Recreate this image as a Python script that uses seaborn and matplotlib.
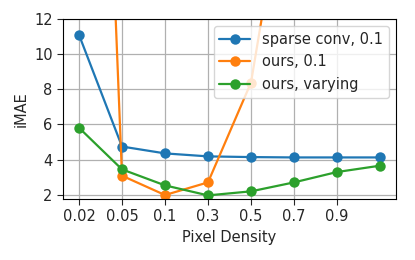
import numpy as np
import pandas as pd
import matplotlib
matplotlib.use("Agg")
import matplotlib.pyplot as plt
import seaborn as sns

# --- Data ---
DENSITY_LABELS = ['0.02', '0.05', '0.1', '0.3', '0.5', '0.7', '0.9']
POSITIONS = [0, 1, 2, 3, 4, 5, 6, 7]   # last point has no tick label

SPARSE_CONV = [11.1, 4.74, 4.35, 4.18, 4.14, 4.12, 4.12, 4.12]
OURS_FIXED = [64.0, 3.08, 1.98, 2.70, 8.38, 23.0]          # rest off the chart
OURS_VARYING = [5.81, 3.44, 2.53, 1.96, 2.19, 2.70, 3.29, 3.65]

SERIES = [
    ('sparse conv, 0.1', SPARSE_CONV, '#1f77b4'),
    ('ours, 0.1', OURS_FIXED, '#ff7f0e'),
    ('ours, varying', OURS_VARYING, '#2ca02c'),
]

sns.set_style("ticks", {"axes.grid": True, "grid.color": "#b0b0b0",
                        "axes.edgecolor": "black"})
plt.rcParams['font.family'] = ['DejaVu Sans']
plt.rcParams['font.size'] = 10
plt.rcParams['grid.linewidth'] = 0.9
plt.rcParams['xtick.major.size'] = 4
plt.rcParams['ytick.major.size'] = 4


def main():
    fig = plt.figure(figsize=(4.15, 2.6), dpi=100)
    ax = fig.add_axes([0.152, 0.235, 0.802, 0.692])

    for name, vals, color in SERIES:
        sns.lineplot(x=POSITIONS[:len(vals)], y=vals, ax=ax, color=color,
                     marker='o', markersize=7.5, markeredgewidth=0,
                     linewidth=1.6, label=name, legend=False)

    ax.set_xticks(POSITIONS[:len(DENSITY_LABELS)])
    ax.set_xticklabels(DENSITY_LABELS, fontsize=10.5)
    ax.tick_params(axis='y', labelsize=10.5)
    ax.set_yticks([2, 4, 6, 8, 10, 12])
    ax.set_xlim(-0.37, 7.37)
    ax.set_ylim(1.76, 12)
    ax.set_xlabel('Pixel Density', fontsize=10.5)
    ax.set_ylabel('iMAE', fontsize=10.5)
    ax.legend(loc='upper right', fontsize=10.5, handlelength=2.1)

    fig.savefig('out.png', dpi=100)
    plt.close(fig)


if __name__ == "__main__":
    main()
